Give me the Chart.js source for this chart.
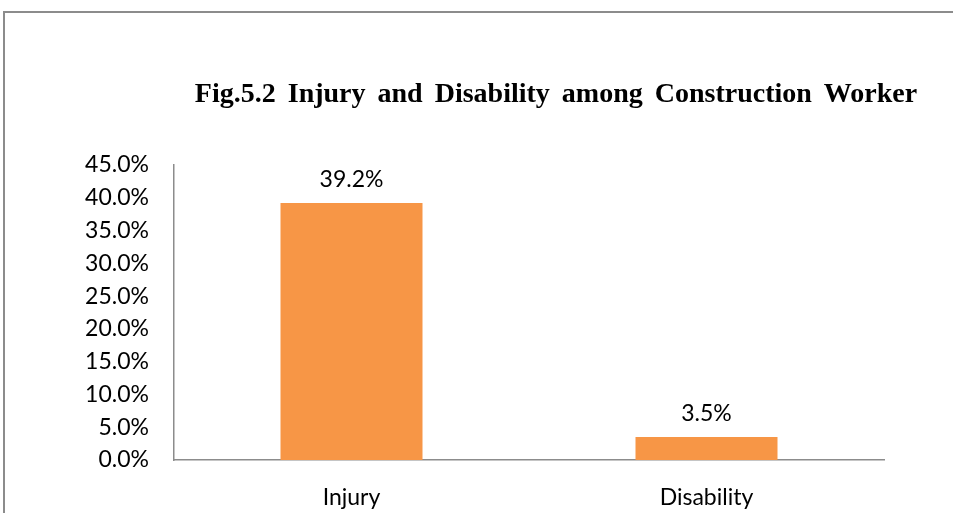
<!DOCTYPE html>
<html>
<head>
<meta charset="utf-8">
<script src="https://cdn.jsdelivr.net/npm/chart.js@4.4.1/dist/chart.umd.min.js"></script>
<style>
  html, body { margin: 0; padding: 0; background: #fff; overflow: hidden; }
  #wrap { position: relative; width: 953px; height: 513px; overflow: hidden; }
  #frame {
    position: absolute; left: 3px; top: 11px; width: 1000px; height: 600px;
    border-left: 2px solid #8c8c8c; border-top: 2px solid #8c8c8c;
  }
  canvas { position: absolute; left: 0; top: 0; }
</style>
</head>
<body>
<div id="wrap">
  <div id="frame"></div>
  <canvas id="chart" width="953" height="513"></canvas>
</div>
<script>
// Datos del gráfico
const titleText = 'Fig.5.2 Injury and Disability among Construction Worker';
const categories = ['Injury', 'Disability'];
const percentages = [39.2, 3.5];
const yMax = 45;
const yStep = 5;

const barColor = '#F79646';
const axisColor = '#8c8c8c';
const labelFont = 'Lato';

// Título en negrita con fuente serif, dibujado a mano
const titlePlugin = {
  id: 'serifTitle',
  afterDraw(chart) {
    const ctx = chart.ctx;
    ctx.save();
    ctx.font = 'bold 28px "Liberation Serif", "Times New Roman", serif';
    ctx.wordSpacing = '5px';
    ctx.fillStyle = '#000';
    ctx.textAlign = 'center';
    ctx.textBaseline = 'alphabetic';
    ctx.fillText(titleText, 556, 102);
    ctx.restore();
  }
};

// Etiquetas de valor encima de cada barra
const valueLabels = {
  id: 'valueLabels',
  afterDatasetsDraw(chart) {
    const ctx = chart.ctx;
    const meta = chart.getDatasetMeta(0);
    ctx.save();
    ctx.font = '23px ' + labelFont;
    ctx.fillStyle = '#000';
    ctx.textAlign = 'center';
    ctx.textBaseline = 'alphabetic';
    meta.data.forEach((bar, i) => {
      ctx.fillText(percentages[i].toFixed(1) + '%', bar.x, bar.y - 16);
    });
    ctx.restore();
  }
};

new Chart(document.getElementById('chart'), {
  type: 'bar',
  data: {
    labels: categories,
    datasets: [{
      data: percentages,
      backgroundColor: barColor,
      borderWidth: 0,
      categoryPercentage: 1,
      barPercentage: 0.4
    }]
  },
  options: {
    responsive: false,
    animation: false,
    layout: { padding: { top: 165, right: 69, left: 0, bottom: 0 } },
    plugins: {
      legend: { display: false },
      title: { display: false },
      tooltip: { enabled: false }
    },
    scales: {
      y: {
        min: 0,
        max: yMax,
        ticks: {
          stepSize: yStep,
          padding: 25,
          color: '#000',
          font: { family: labelFont, size: 23 },
          callback: (v) => v.toFixed(1) + '%'
        },
        grid: { display: false, drawTicks: false },
        border: { display: true, color: axisColor, width: 1.5 },
        afterFit: (s) => { s.width = 174; }
      },
      x: {
        ticks: {
          padding: 24,
          color: '#000',
          font: { family: labelFont, size: 23 }
        },
        grid: { display: false, drawTicks: false },
        border: { display: true, color: axisColor, width: 1.5 },
        afterFit: (s) => { s.height = 53; }
      }
    }
  },
  plugins: [titlePlugin, valueLabels]
});
</script>
</body>
</html>
